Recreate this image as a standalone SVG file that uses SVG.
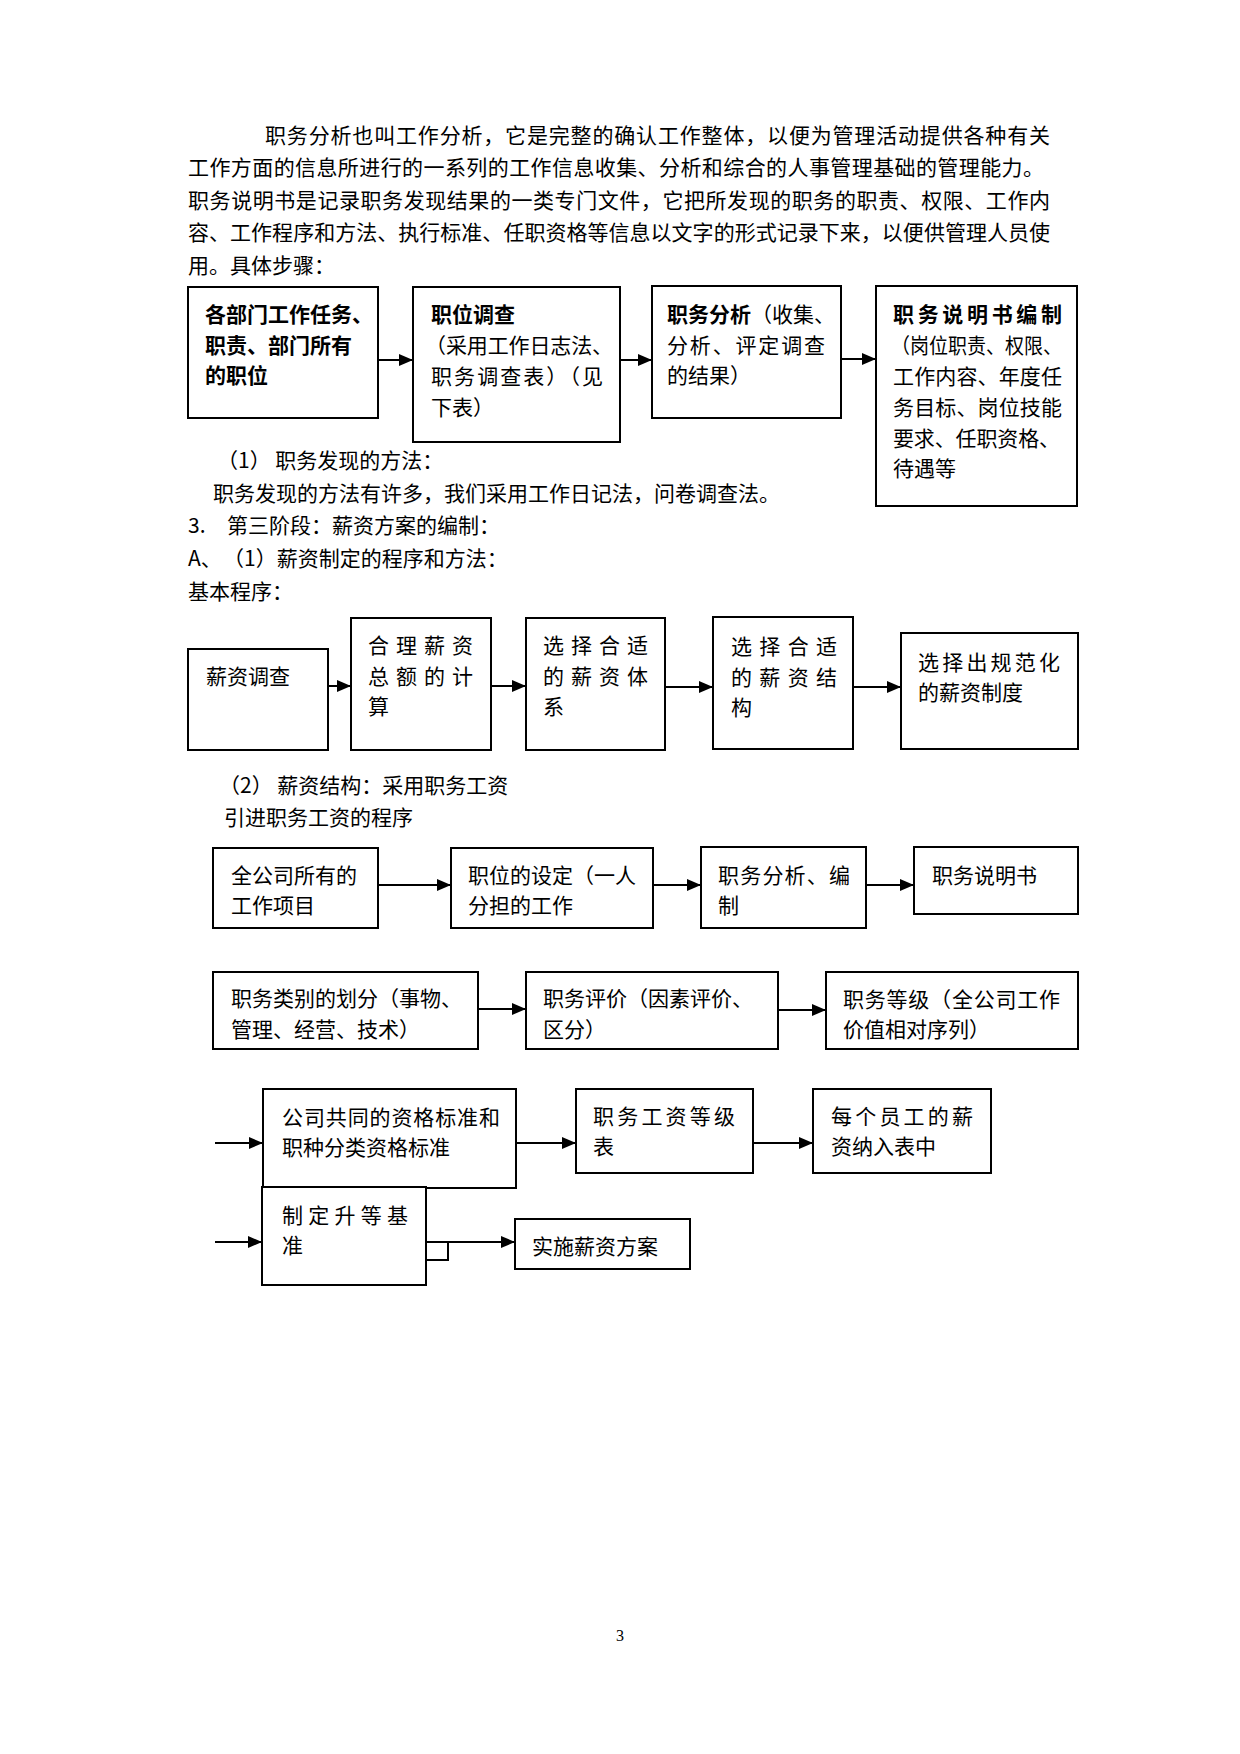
<svg xmlns="http://www.w3.org/2000/svg" width="1240" height="1754" viewBox="0 0 1240 1754">
<style>
text{font-family:"Noto Sans CJK SC","Noto Sans",sans-serif;font-size:21px;fill:#000}
.b{font-weight:bold}
.box{fill:#fff;stroke:#000;stroke-width:2}
.con line{stroke:#000;stroke-width:2;marker-end:url(#ah)}
.pg{font-family:"Liberation Serif",serif;font-size:16px}
</style>
<defs>
<marker id="ah" markerUnits="userSpaceOnUse" markerWidth="14" markerHeight="12" viewBox="0 0 14 12" refX="14" refY="6" orient="auto">
<path d="M0,0 L14,6 L0,12 z" fill="#000"/>
</marker>
</defs>
<rect width="1240" height="1754" fill="#fff"/>

<g id="body-text">
<text x="265" y="143" textLength="785" lengthAdjust="spacing">职务分析也叫工作分析，它是完整的确认工作整体，以便为管理活动提供各种有关</text>
<text x="188" y="175" textLength="856" lengthAdjust="spacing">工作方面的信息所进行的一系列的工作信息收集、分析和综合的人事管理基础的管理能力。</text>
<text x="188" y="208" textLength="862" lengthAdjust="spacing">职务说明书是记录职务发现结果的一类专门文件，它把所发现的职务的职责、权限、工作内</text>
<text x="188" y="240" textLength="862" lengthAdjust="spacing">容、工作程序和方法、执行标准、任职资格等信息以文字的形式记录下来，以便供管理人员使</text>
<text x="188" y="273">用。具体步骤：</text>
<text x="217" y="468">（1） 职务发现的方法：</text>
<text x="213" y="501">职务发现的方法有许多，我们采用工作日记法，问卷调查法。</text>
<text x="188" y="533">3.</text>
<text x="227" y="533">第三阶段：薪资方案的编制：</text>
<text x="188" y="566">A、</text>
<text x="223" y="566">（1）薪资制定的程序和方法：</text>
<text x="188" y="599">基本程序：</text>
<text x="219" y="793">（2） 薪资结构：采用职务工资</text>
<text x="224" y="825">引进职务工资的程序</text>
<text class="pg" x="620" y="1641" text-anchor="middle">3</text>
</g>

<g class="con" id="connectors">
<line x1="378" y1="360" x2="413" y2="360"/>
<line x1="602" y1="360" x2="652" y2="360"/>
<line x1="841" y1="359" x2="876" y2="359"/>
<line x1="328" y1="686" x2="351" y2="686"/>
<line x1="491" y1="686" x2="526" y2="686"/>
<line x1="665" y1="687" x2="713" y2="687"/>
<line x1="853" y1="687" x2="901" y2="687"/>
<line x1="378" y1="885" x2="451" y2="885"/>
<line x1="653" y1="885" x2="701" y2="885"/>
<line x1="866" y1="885" x2="914" y2="885"/>
<line x1="478" y1="1009" x2="526" y2="1009"/>
<line x1="778" y1="1010" x2="826" y2="1010"/>
<line x1="215" y1="1143" x2="263" y2="1143"/>
<line x1="516" y1="1143" x2="576" y2="1143"/>
<line x1="753" y1="1143" x2="813" y2="1143"/>
<line x1="215" y1="1242" x2="262" y2="1242"/>
<line x1="426" y1="1242" x2="515" y2="1242"/>
</g>

<g id="n1">
<rect class="box" x="188" y="287" width="190" height="131"/>
<text class="b" x="205" y="322">各部门工作任务、</text>
<text class="b" x="205" y="353">职责、部门所有</text>
<text class="b" x="205" y="383">的职位</text>
</g>
<g id="n2">
<rect class="box" x="413" y="287" width="207" height="155"/>
<text class="b" x="431" y="322">职位调查</text>
<text x="425" y="353" textLength="188" lengthAdjust="spacing">（采用工作日志法、</text>
<text x="431" y="384" textLength="172" lengthAdjust="spacing">职务调查表）（见</text>
<text x="431" y="415">下表）</text>
</g>
<g id="n3">
<rect class="box" x="652" y="286" width="189" height="132"/>
<text x="667" y="322"><tspan class="b">职务分析</tspan>（收集、</text>
<text x="667" y="353" textLength="158" lengthAdjust="spacing">分析、评定调查</text>
<text x="667" y="383">的结果）</text>
</g>
<g id="n4">
<rect class="box" x="876" y="286" width="201" height="220"/>
<text class="b" x="893" y="322" textLength="169" lengthAdjust="spacing">职务说明书编制</text>
<text x="891" y="353" textLength="171" lengthAdjust="spacingAndGlyphs">（岗位职责、权限、</text>
<text x="893" y="384" textLength="169" lengthAdjust="spacing">工作内容、年度任</text>
<text x="893" y="415" textLength="169" lengthAdjust="spacing">务目标、岗位技能</text>
<text x="893" y="446" textLength="167" lengthAdjust="spacing">要求、任职资格、</text>
<text x="893" y="476">待遇等</text>
</g>

<g id="n5">
<rect class="box" x="188" y="649" width="140" height="101"/>
<text x="206" y="684">薪资调查</text>
</g>
<g id="n6">
<rect class="box" x="351" y="618" width="140" height="132"/>
<text x="368" y="653" textLength="105" lengthAdjust="spacing">合理薪资</text>
<text x="368" y="684" textLength="105" lengthAdjust="spacing">总额的计</text>
<text x="368" y="714">算</text>
</g>
<g id="n7">
<rect class="box" x="526" y="618" width="139" height="132"/>
<text x="543" y="653" textLength="105" lengthAdjust="spacing">选择合适</text>
<text x="543" y="684" textLength="105" lengthAdjust="spacing">的薪资体</text>
<text x="543" y="714">系</text>
</g>
<g id="n8">
<rect class="box" x="713" y="617" width="140" height="132"/>
<text x="731" y="654" textLength="106" lengthAdjust="spacing">选择合适</text>
<text x="731" y="685" textLength="106" lengthAdjust="spacing">的薪资结</text>
<text x="731" y="715">构</text>
</g>
<g id="n9">
<rect class="box" x="901" y="633" width="177" height="116"/>
<text x="918" y="670" textLength="142" lengthAdjust="spacing">选择出规范化</text>
<text x="918" y="700">的薪资制度</text>
</g>

<g id="n10">
<rect class="box" x="213" y="848" width="165" height="80"/>
<text x="231" y="883">全公司所有的</text>
<text x="231" y="913">工作项目</text>
</g>
<g id="n11">
<rect class="box" x="451" y="848" width="202" height="80"/>
<text x="468" y="883">职位的设定（一人</text>
<text x="468" y="913">分担的工作</text>
</g>
<g id="n12">
<rect class="box" x="701" y="847" width="165" height="81"/>
<text x="718" y="883" textLength="132" lengthAdjust="spacing">职务分析、编</text>
<text x="718" y="913">制</text>
</g>
<g id="n13">
<rect class="box" x="914" y="847" width="164" height="67"/>
<text x="932" y="883">职务说明书</text>
</g>

<g id="n14">
<rect class="box" x="213" y="972" width="265" height="77"/>
<text x="231" y="1006">职务类别的划分（事物、</text>
<text x="231" y="1037">管理、经营、技术）</text>
</g>
<g id="n15">
<rect class="box" x="526" y="972" width="252" height="77"/>
<text x="543" y="1006">职务评价（因素评价、</text>
<text x="543" y="1037">区分）</text>
</g>
<g id="n16">
<rect class="box" x="826" y="972" width="252" height="77"/>
<text x="843" y="1007" textLength="217" lengthAdjust="spacing">职务等级（全公司工作</text>
<text x="843" y="1037">价值相对序列）</text>
</g>

<g id="n17">
<rect class="box" x="263" y="1089" width="253" height="99"/>
<text x="282" y="1125" textLength="218" lengthAdjust="spacing">公司共同的资格标准和</text>
<text x="282" y="1155">职种分类资格标准</text>
</g>
<g id="n18">
<rect class="box" x="576" y="1089" width="177" height="84"/>
<text x="593" y="1124" textLength="142" lengthAdjust="spacing">职务工资等级</text>
<text x="593" y="1154">表</text>
</g>
<g id="n19">
<rect class="box" x="813" y="1089" width="178" height="84"/>
<text x="831" y="1124" textLength="142" lengthAdjust="spacing">每个员工的薪</text>
<text x="831" y="1154">资纳入表中</text>
</g>

<g id="n20">
<rect class="box" x="262" y="1187" width="164" height="98"/>
<text x="282" y="1223" textLength="126" lengthAdjust="spacing">制定升等基</text>
<text x="282" y="1253">准</text>
</g>
<g id="n21">
<rect class="box" x="426" y="1242" width="22" height="18"/>
</g>
<g id="n22">
<rect class="box" x="515" y="1219" width="175" height="50"/>
<text x="532" y="1254">实施薪资方案</text>
</g>
</svg>
